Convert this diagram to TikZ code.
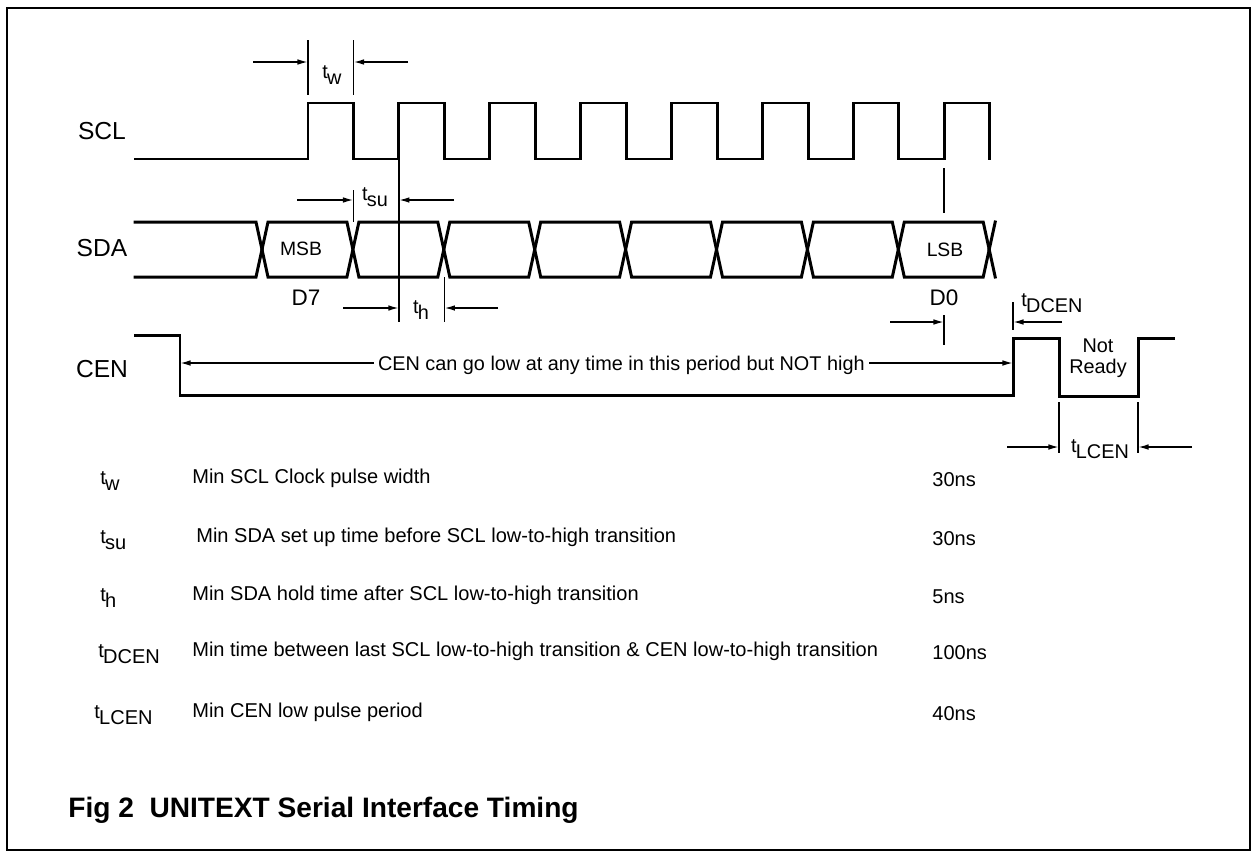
\documentclass[tikz,border=0pt]{standalone}
\usepackage{fontspec}
\setmainfont{Liberation Sans}
\usetikzlibrary{arrows.meta}
\newcommand{\tsb}[1]{t\kern-0.4pt\raisebox{-0.55ex}{#1}}
\begin{document}
\begin{tikzpicture}[x=0.02cm,y=-0.02cm,
  sig/.style={line width=1.7pt, line join=miter, line cap=rect},
  tick/.style={line width=0.7pt},
  dim/.style={line width=0.9pt,-{Latex[length=6pt,width=3.2pt]}},
  siglbl/.style={font=\fontsize{14}{16}\selectfont, inner sep=0pt},
  ann/.style={font=\fontsize{11.3}{13}\selectfont, inner sep=0pt},
  box/.style={font=\fontsize{11}{12}\selectfont, inner sep=0pt},
  dlbl/.style={font=\fontsize{12.8}{15}\selectfont, inner sep=0pt},
  tlbl/.style={font=\fontsize{11.3}{13}\selectfont, inner sep=0pt},
  leg/.style={font=\fontsize{11.4}{13}\selectfont, inner sep=0pt, anchor=west},
  title/.style={font=\fontsize{16}{19}\selectfont\bfseries, inner sep=0pt, anchor=west},
]
\useasboundingbox (0,0) rectangle (1256,856);
\draw[line width=1.1pt] (7,8) rectangle (1250,850);

% signal names
\node[siglbl] (scl) at (102,131) {SCL};
\node[siglbl] (sda) at (102,248) {SDA};
\node[siglbl] (cen) at (102,369) {CEN};

% SCL waveform
\draw[sig] (135,159) \foreach \k in {0,...,7}{
  -- ({308+90.9*\k},159) -- ({308+90.9*\k},103) -- ({353.5+90.9*\k},103) -- ({353.5+90.9*\k},159)};

% SDA waveform
\draw[sig] (135,222) -- (256,222) -- (262,249.5);
\draw[sig] (135,277) -- (256,277) -- (262,249.5);
\foreach \k in {0,...,7}{
  \pgfmathsetmacro{\ca}{262+90.9*\k}
  \pgfmathsetmacro{\cb}{262+90.9*(\k+1)}
  \draw[sig] (\ca,249.5) -- (\ca+6,222) -- (\cb-6,222) -- (\cb,249.5) -- (\cb-6,277) -- (\ca+6,277) -- cycle;
}
\draw[sig] (989.2,249.5) -- (995.2,222);
\draw[sig] (989.2,249.5) -- (995.2,277);
\node[box] (msb) at (301,249) {MSB};
\node[box] (lsb) at (945,250) {LSB};
\node[dlbl] (d7) at (306,298) {D7};
\node[dlbl] (d0) at (944,298) {D0};

% CEN waveform
\draw[sig] (135,335) -- (180,335) -- (180,395) -- (1013,395) -- (1013,338) -- (1059,338) -- (1059,396) -- (1138,396) -- (1138,338) -- (1173,338);
\node[tlbl] (nr1) at (1098,346) {Not};
\node[tlbl] (nr2) at (1098,368) {Ready};

% t_w
\draw[tick] (308,40) -- (308,95);
\draw[tick] (353.5,40) -- (353.5,95);
\coordinate (twa) at (253,62); \coordinate (twb) at (308,62);
\coordinate (twc) at (408,62); \coordinate (twd) at (353.5,62);
\draw[dim] (twa) -- (twb);
\draw[dim] (twc) -- (twd);
\node[tlbl] (tw) at (332,75) {\tsb{w}};

% t_su and t_h
\draw[tick] (353.5,190) -- (353.5,222);
\draw[tick] (398.9,159) -- (398.9,322);
\draw[tick] (444.4,277) -- (444.4,322);
\coordinate (tsa) at (297,200); \coordinate (tsb) at (353.5,200);
\coordinate (tsc) at (454,200); \coordinate (tsd) at (398.9,200);
\draw[dim] (tsa) -- (tsb);
\draw[dim] (tsc) -- (tsd);
\node[tlbl] (tsu) at (375,197) {\tsb{su}};
\coordinate (tha) at (343,308); \coordinate (thb) at (398.9,308);
\coordinate (thc) at (498,308); \coordinate (thd) at (444.4,308);
\draw[dim] (tha) -- (thb);
\draw[dim] (thc) -- (thd);
\node[tlbl] (th) at (421,310) {\tsb{h}};

% marker under last SCL rise, D0 reference
\draw[tick] (944,168) -- (944,213);
\draw[tick] (944,315) -- (944,345);
\coordinate (d0a) at (890,322); \coordinate (d0b) at (944,322);
\draw[dim] (d0a) -- (d0b);

% t_DCEN
\draw[tick] (1013,302) -- (1013,330);
\coordinate (dca) at (1062,322); \coordinate (dcb) at (1013,322);
\draw[dim] (dca) -- (dcb);
\node[tlbl, anchor=west] (tdcen) at (1021,303) {\tsb{DCEN}};

% CEN period annotation
\node[ann, anchor=east] (cent) at (865,365) {CEN can go low at any time in this period but NOT high};
\coordinate (cenl) at (180,363); \coordinate (cenr) at (1013,363);
\draw[dim] (cent.west) ++(-4,-2) -- (cenl);
\draw[dim] (cent.east) ++(4,-2) -- (cenr);

% t_LCEN
\draw[tick] (1059,402) -- (1059,453);
\draw[tick] (1138,402) -- (1138,453);
\coordinate (lca) at (1007,447); \coordinate (lcb) at (1059,447);
\coordinate (lcc) at (1192,447); \coordinate (lcd) at (1138,447);
\draw[dim] (lca) -- (lcb);
\draw[dim] (lcc) -- (lcd);
\node[tlbl] (tlcen) at (1100,449) {\tsb{LCEN}};

% legend
\node[leg] (s1) at (100,481) {\tsb{w}};
\node[leg] (s2) at (100,540) {\tsb{su}};
\node[leg] (s3) at (100,598) {\tsb{h}};
\node[leg] (s4) at (98,654) {\tsb{DCEN}};
\node[leg] (s5) at (94,715) {\tsb{LCEN}};
\node[leg] (l1) at (192,478) {Min SCL Clock pulse width};
\node[leg] (l2) at (196,537) {Min SDA set up time before SCL low-to-high transition};
\node[leg] (l3) at (192,595) {Min SDA hold time after SCL low-to-high transition};
\node[leg] (l4) at (192,651) {Min time between last SCL low-to-high transition \& CEN low-to-high transition};
\node[leg] (l5) at (192,712) {Min CEN low pulse period};
\node[leg] (v1) at (932,480) {30ns};
\node[leg] (v2) at (932,539) {30ns};
\node[leg] (v3) at (932,597) {5ns};
\node[leg] (v4) at (932,653) {100ns};
\node[leg] (v5) at (932,714) {40ns};

\node[title] (ttl) at (68,810) {Fig 2\ \ UNITEXT Serial Interface Timing};
\end{tikzpicture}
\end{document}
